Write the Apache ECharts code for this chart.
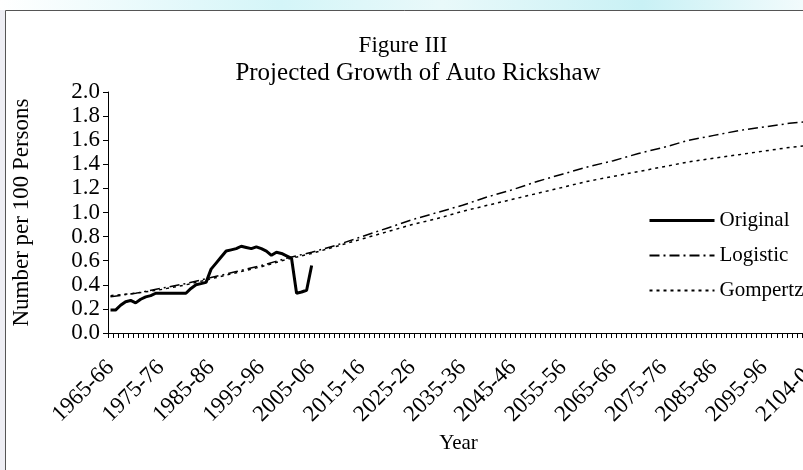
<!DOCTYPE html>
<html>
<head>
<meta charset="utf-8">
<script src="https://cdn.jsdelivr.net/npm/echarts@6/dist/echarts.min.js"></script>
<style>html,body{margin:0;padding:0;background:#fff}#c{width:803px;height:470px}</style>
</head>
<body>
<div id="c"></div>
<script>
// Categories: fiscal years 1965-66 ... 2104-05, last label as printed in the source
const categories = [];
for (let y = 1965; y <= 2104; y++) categories.push(y + '-' + String((y + 1) % 100).padStart(2, '0'));
categories.push('2104-06');

const yTicks = [0, 0.2, 0.4, 0.6, 0.8, 1.0, 1.2, 1.4, 1.6, 1.8, 2.0];

// Original observed series (1965-66 .. 2005-06)
const originalValues = [
  0.19, 0.19, 0.23, 0.26, 0.27, 0.25, 0.28, 0.30, 0.31, 0.33,
  0.33, 0.33, 0.33, 0.33, 0.33, 0.33, 0.37, 0.40, 0.41, 0.42,
  0.53, 0.58, 0.63, 0.68, 0.69, 0.70, 0.72, 0.71, 0.70, 0.715,
  0.70, 0.68, 0.645, 0.67, 0.66, 0.64, 0.62, 0.33, 0.34, 0.355,
  0.56
];

// Projected series, read every 5 categories
const projIndex = [0,5,10,15,20,25,30,35,40,45,50,55,60,65,70,75,80,85,90,95,100,105,110,115,120,125,130,135,140];
const logisticValues = [0.30,0.33,0.37,0.41,0.46,0.51,0.56,0.62,0.67,0.73,0.80,0.87,0.94,1.00,1.06,1.13,1.19,1.26,1.32,1.38,1.43,1.49,1.54,1.60,1.64,1.68,1.71,1.74,1.76];
const gompertzValues = [0.31,0.33,0.36,0.40,0.45,0.50,0.55,0.61,0.66,0.72,0.78,0.84,0.90,0.95,1.01,1.06,1.11,1.16,1.21,1.26,1.30,1.34,1.38,1.42,1.45,1.48,1.51,1.54,1.56];

const FONT = '"Liberation Serif", "Times New Roman", serif';
const chart = echarts.init(document.getElementById('c'), null, {renderer: 'canvas'});

chart.setOption({
  animation: false,
  backgroundColor: '#ffffff',
  title: [
    {text: 'Figure III', left: 398, top: 29, textAlign: 'center',
      textStyle: {fontFamily: FONT, fontSize: 23, fontWeight: 'normal', color: '#000'}},
    {text: 'Projected Growth of Auto Rickshaw', left: 413, top: 56, textAlign: 'center',
      textStyle: {fontFamily: FONT, fontSize: 25, fontWeight: 'normal', color: '#000'}}
  ],
  graphic: [
    {type: 'rect', shape: {x: 0, y: 0, width: 803, height: 10}, silent: true, z: -10,
      style: {fill: new echarts.graphic.LinearGradient(0, 0, 1, 0, [
        {offset: 0, color: '#ffffff'}, {offset: 0.35, color: '#d4f5f8'}, {offset: 0.55, color: '#e9f9fa'},
        {offset: 0.8, color: '#c9f1f5'}, {offset: 1, color: '#f2fbfc'}])}},
    {type: 'rect', shape: {x: 0, y: 10, width: 5, height: 460}, silent: true, z: -10, style: {fill: '#eeeef4'}},
    {type: 'rect', shape: {x: 5.5, y: 10.5, width: 820, height: 480}, silent: true, z: -5,
      style: {fill: null, stroke: '#555', lineWidth: 1}}
  ],
  legend: {
    orient: 'vertical', left: 648, top: 210, padding: 0,
    itemWidth: 65, itemHeight: 14, itemGap: 14,
    itemStyle: {opacity: 0},
    textStyle: {fontFamily: FONT, fontSize: 21, color: '#000'},
    data: [
      {name: 'Original', lineStyle: {width: 3}},
      {name: 'Logistic'},
      {name: 'Gompertz'}
    ]
  },
  grid: {left: 108, top: 92, width: 709, height: 241, containLabel: false, outerBoundsMode: 'none'},
  xAxis: {
    type: 'category', data: categories, boundaryGap: true,
    name: 'Year', nameLocation: 'middle', nameGap: 99,
    nameTextStyle: {fontFamily: FONT, fontSize: 21, color: '#000', padding: [0, 8, 0, 0]},
    axisLine: {lineStyle: {color: '#000', width: 1}},
    axisTick: {show: true, interval: 0, length: 5, lineStyle: {color: '#000'}},
    axisLabel: {interval: 9, rotate: 45, margin: 31, fontFamily: FONT, fontSize: 23, color: '#000'},
    splitLine: {show: false}
  },
  yAxis: {
    type: 'value', min: yTicks[0], max: yTicks[yTicks.length - 1], interval: 0.2,
    name: 'Number per 100 Persons', nameLocation: 'middle', nameGap: 75, nameRotate: 90,
    nameTextStyle: {fontFamily: FONT, fontSize: 23, color: '#000'},
    axisLine: {show: true, lineStyle: {color: '#000', width: 1}},
    axisTick: {show: true, length: 5, lineStyle: {color: '#000'}},
    axisLabel: {margin: 8, fontFamily: FONT, fontSize: 23, color: '#000', formatter: v => v.toFixed(1)},
    splitLine: {show: false}
  },
  series: [
    {name: 'Original', type: 'line', data: originalValues, symbol: 'none',
      lineStyle: {color: '#000', width: 3}, itemStyle: {color: '#000'}, z: 5},
    {name: 'Logistic', type: 'line', data: projIndex.map((k, j) => [k, logisticValues[j]]), symbol: 'none',
      lineStyle: {color: '#000', width: 1.5, type: [10, 4, 2, 4]}, itemStyle: {color: '#000'}},
    {name: 'Gompertz', type: 'line', data: projIndex.map((k, j) => [k, gompertzValues[j]]), symbol: 'none',
      lineStyle: {color: '#000', width: 1.5, type: [3, 4]}, itemStyle: {color: '#000'}}
  ]
});
</script>
</body>
</html>
